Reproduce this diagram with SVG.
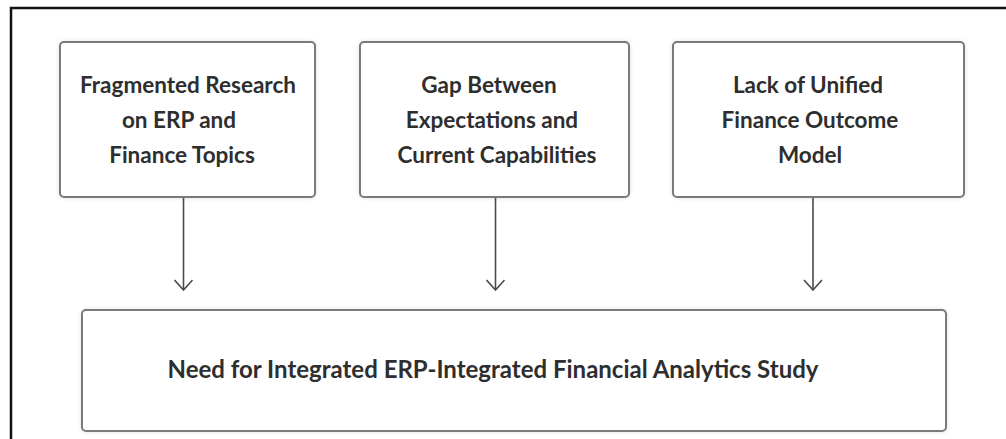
<svg xmlns="http://www.w3.org/2000/svg" width="1006" height="439" viewBox="0 0 1006 439">
  <style>
    .box { fill: #ffffff; stroke: #7a7a7a; stroke-width: 2; filter: url(#halo); }
    .lbl { font-family: Lato, "Open Sans", "Liberation Sans", sans-serif; font-weight: 700; font-size: 22.5px; fill: #2e2e2e; text-anchor: middle; }
    .main { font-size: 24px; }
    .link { stroke: #4a4a4a; stroke-width: 1.6; fill: none; marker-end: url(#vhead); }
  </style>
  <defs>
    <filter id="halo" x="-5%" y="-10%" width="110%" height="120%">
      <feDropShadow dx="0" dy="0" stdDeviation="2" flood-color="#000000" flood-opacity="0.12"/>
    </filter>
    <!-- open V head, pointing along +x -->
    <marker id="vhead" viewBox="0 0 12 20" refX="11" refY="10" markerWidth="12" markerHeight="20" markerUnits="userSpaceOnUse" orient="auto">
      <path d="M1,1 L11,10 L1,19" fill="none" stroke="#4a4a4a" stroke-width="1.6"/>
    </marker>
  </defs>

  <rect width="1006" height="439" fill="#ffffff"/>
  <!-- outer frame -->
  <path d="M11,439 V8 H1006" fill="none" stroke="#111111" stroke-width="2.5"/>

  <g id="fragmented-research">
    <rect class="box" x="60" y="42" width="255" height="155" rx="4"/>
    <text class="lbl" x="188" y="93">Fragmented Research</text>
    <text class="lbl" x="179" y="128">on ERP and</text>
    <text class="lbl" x="182" y="163">Finance Topics</text>
  </g>

  <g id="expectation-gap">
    <rect class="box" x="360" y="42" width="269" height="155" rx="4"/>
    <text class="lbl" x="489" y="93">Gap Between</text>
    <text class="lbl" x="492" y="128">Expectations and</text>
    <text class="lbl" x="497" y="163">Current Capabilities</text>
  </g>

  <g id="unified-model">
    <rect class="box" x="673" y="42" width="291" height="155" rx="4"/>
    <text class="lbl" x="808" y="93">Lack of Unified</text>
    <text class="lbl" x="810" y="128">Finance Outcome</text>
    <text class="lbl" x="810" y="163">Model</text>
  </g>

  <g id="integrated-study">
    <rect class="box" x="82" y="310" width="864" height="121" rx="4"/>
    <text class="lbl main" x="493" y="378">Need for Integrated ERP-Integrated  Financial Analytics Study</text>
  </g>

  <g id="connectors">
    <line class="link" x1="183.5" y1="198" x2="183.5" y2="290"/>
    <line class="link" x1="495.5" y1="198" x2="495.5" y2="290"/>
    <line class="link" x1="813" y1="198" x2="813" y2="290"/>
  </g>
</svg>
